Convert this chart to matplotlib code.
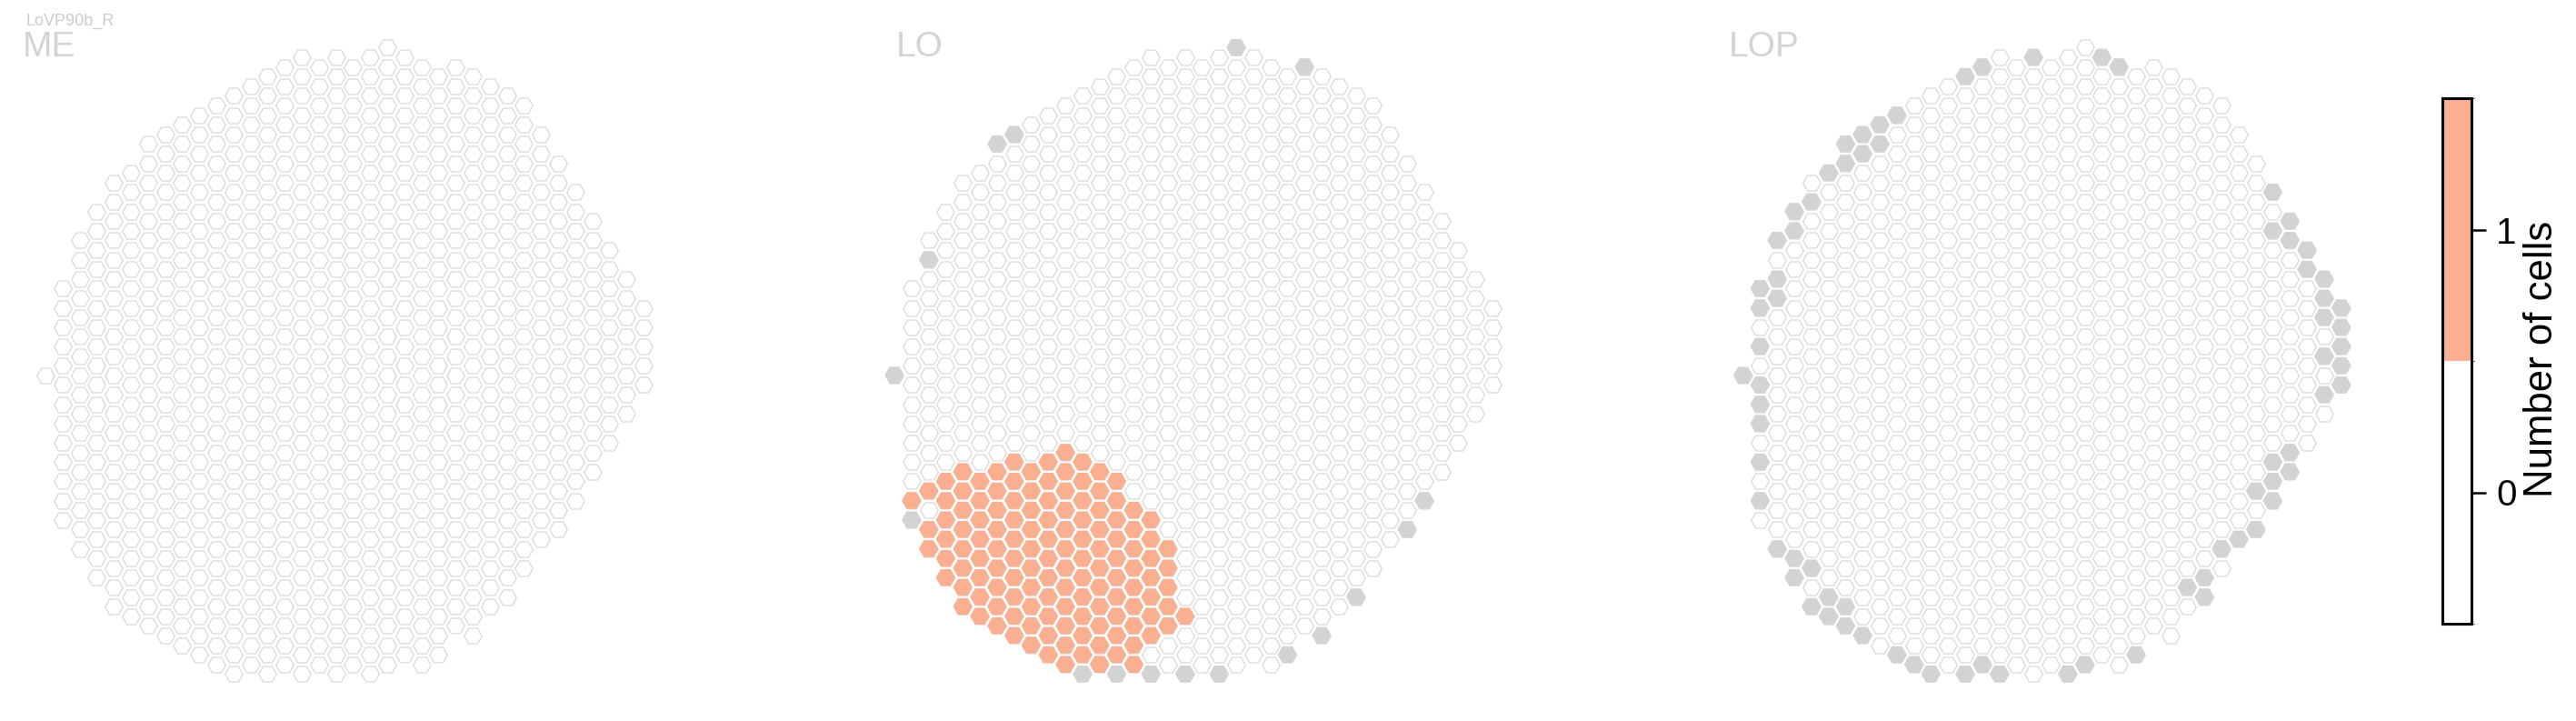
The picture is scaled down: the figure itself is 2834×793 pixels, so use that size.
import numpy as np
import matplotlib
matplotlib.use("Agg")
import matplotlib.pyplot as plt
from matplotlib.path import Path
from matplotlib.colors import ListedColormap, BoundaryNorm
from matplotlib.cm import ScalarMappable

plt.rcParams['font.family'] = ['Liberation Sans', 'DejaVu Sans']

# hex column layout (same for ME, LO, LOP)
# for each column: highest and lowest half-row index (step 2 inside a column)
col_index = list(range(36))
col_top = [0, 9, 14, 17, 20, 21, 24, 25, 26, 27, 28, 29, 30, 31, 32, 33, 32, 33,
           32, 33, 34, 33, 32, 31, 32, 31, 30, 29, 28, 25, 22, 19, 16, 13, 10, 7]
col_bottom = [0, -15, -18, -21, -24, -25, -26, -27, -28, -29, -30, -31, -30, -31, -30, -31, -30, -31,
              -30, -31, -30, -29, -30, -29, -26, -27, -24, -23, -20, -17, -16, -13, -10, -7, -4, -1]

# LO: columns with 1 cell, as runs (top/bottom half-row) per column
lo_cell_cols = [1, 2, 3, 4, 5, 6, 7, 8, 9, 10, 11, 12, 13, 14, 15, 16, 17]
lo_cell_top = [-13, -12, -11, -10, -11, -10, -9, -10, -9, -8, -9, -10, -11, -14, -15, -18, -25]
lo_cell_bottom = [-13, -18, -21, -24, -25, -26, -27, -28, -29, -30, -29, -30, -29, -30, -27, -26, -25]
lo_cell_holes = [(2, -14)]

# columns drawn grey (column, half-row)
lo_grey = [(20, 34), (24, 32), (7, 25), (6, 24), (2, 12), (0, 0), (1, -15), (31, -13), (30, -16),
           (27, -23), (25, -27), (23, -29), (11, -31), (13, -31), (15, -31), (17, -31), (19, -31)]
lop_grey = [(9, 27), (8, 26), (7, 25), (6, 24), (8, 24), (7, 23), (6, 22), (5, 21), (4, 18), (3, 17),
            (3, 15), (2, 14), (2, 10), (1, 9), (2, 8), (1, 7), (1, 3), (0, 0), (1, -1), (1, -3),
            (1, -5), (1, -9), (1, -13),
            (13, 31), (14, 32), (17, 33), (21, 33), (22, 32),
            (31, 19), (32, 16), (31, 15), (32, 14), (33, 13), (33, 11), (34, 10), (34, 8), (35, 7),
            (34, 6), (35, 5), (35, 3), (34, 2), (35, 1), (35, -1), (34, -2),
            (32, -8), (31, -9), (32, -10), (31, -11), (30, -12), (31, -13), (30, -16), (29, -17),
            (28, -18), (27, -21), (26, -22), (27, -23),
            (2, -18), (3, -19), (4, -20), (3, -21), (5, -23), (4, -24), (6, -24), (5, -25),
            (6, -26), (7, -27), (9, -29), (10, -30), (11, -31), (13, -31), (14, -30), (15, -31),
            (19, -31), (20, -30), (23, -29)]

panels = ['ME', 'LO', 'LOP']
panel_grey = [[], lo_grey, lop_grey]

orange = '#fbaf91'
grey = '#d3d3d3'

# all hexes of the grid
grid_x, grid_y = [], []
for c, t, b in zip(col_index, col_top, col_bottom):
    for h in range(b, t + 1, 2):
        grid_x.append(c)
        grid_y.append(h)

cell_x, cell_y = [], []
for c, t, b in zip(lo_cell_cols, lo_cell_top, lo_cell_bottom):
    for h in range(b, t + 1, 2):
        if (c, h) not in lo_cell_holes:
            cell_x.append(c)
            cell_y.append(h)
panel_cells = [([], []), (cell_x, cell_y), ([], [])]

# flat-top hexagon marker
ang = np.radians(np.arange(0, 360, 60))
verts = list(zip(np.cos(ang), np.sin(ang))) + [(1, 0)]
hexagon = Path(verts, [Path.MOVETO] + [Path.LINETO] * 5 + [Path.CLOSEPOLY])

W, H = 2834, 793
fig = plt.figure(figsize=(W / 100, H / 100), dpi=100)

dx, dy = 18.8, 10.6
panel_x0 = [50, 984, 1917.5]
y0 = 412.7
ms = 21.5 * 72 / 100

for i, name in enumerate(panels):
    x0 = panel_x0[i]
    ax = fig.add_axes([(x0 - 40) / W, (H - 780) / H, 740 / W, 760 / H])
    ax.set_xlim(-40 / dx, 700 / dx)
    ax.set_ylim((y0 - 780) / dy, (y0 - 20) / dy)
    ax.axis('off')
    ax.scatter(grid_x, grid_y, s=(ms - 1.4) ** 2, marker=hexagon, facecolor='white',
               edgecolor='#d9d9d9', linewidths=0.9, zorder=1)
    if panel_grey[i]:
        gx, gy = zip(*panel_grey[i])
        ax.scatter(gx, gy, s=ms ** 2, marker=hexagon, facecolor=grey,
                   edgecolor='none', zorder=2)
    cx, cy = panel_cells[i]
    if cx:
        ax.scatter(cx, cy, s=ms ** 2, marker=hexagon, facecolor=orange,
                   edgecolor='none', zorder=3)

title_x = [25, 986, 1902]
for name, tx in zip(panels, title_x):
    fig.text(tx / W, (H - 62) / H, name, fontsize=28, color='#d3d3d3', va='baseline', ha='left')
fig.text(28 / W, (H - 28) / H, 'LoVP90b_R', fontsize=13, color='#cccccc', va='baseline', ha='left')

# colorbar
cax = fig.add_axes([2687 / W, (H - 686) / H, 32 / W, 578 / H])
cmap = ListedColormap(['white', orange])
norm = BoundaryNorm([-0.5, 0.5, 1.5], 2)
cb = fig.colorbar(ScalarMappable(norm=norm, cmap=cmap), cax=cax, ticks=[0, 1])
cb.outline.set_linewidth(2.2)
cb.outline.set_edgecolor('black')
cax.tick_params(length=11.5, width=1.8, labelsize=29, pad=8)
fig.text(2797 / W, (H - 395) / H, 'Number of cells', rotation=90, ha='center', va='center',
         fontsize=31.5)

fig.savefig('out.png', dpi=100)
